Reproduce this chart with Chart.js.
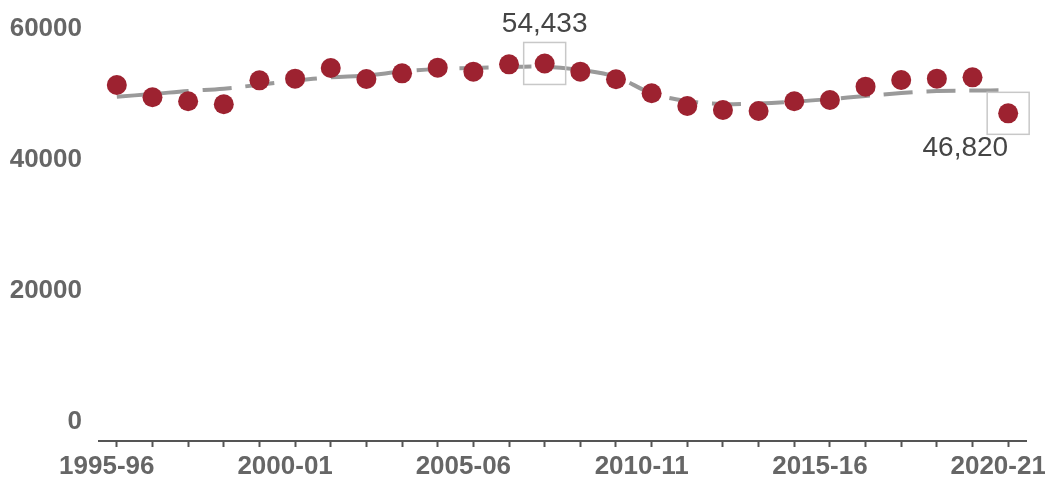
<!DOCTYPE html>
<html>
<head>
<meta charset="utf-8">
<script src="https://cdn.jsdelivr.net/npm/chart.js@4/dist/chart.umd.min.js"></script>
<style>
  html, body { margin: 0; padding: 0; background: #fff; overflow: hidden; }
  canvas { display: block; }
</style>
</head>
<body>
<canvas id="c" width="1045" height="480"></canvas>
<script>
// Academic years shown along the x axis
const years = [
  '1995-96','1996-97','1997-98','1998-99','1999-00','2000-01','2001-02','2002-03',
  '2003-04','2004-05','2005-06','2006-07','2007-08','2008-09','2009-10','2010-11',
  '2011-12','2012-13','2013-14','2014-15','2015-16','2016-17','2017-18','2018-19',
  '2019-20','2020-21'
];

// Yearly totals
const totals = [
  51150, 49270, 48660, 48200, 51860, 52110, 53740, 52060,
  52930, 53790, 53180, 54300, 54433, 53180, 52020, 49880,
  47940, 47330, 47180, 48660, 48850, 50890, 51910, 52110,
  52320, 46820
];

// Smoothed trend
const trend = [
  49360, 49770, 50230, 50580, 51190, 51800, 52320, 52600,
  53200, 53590, 53740, 53890, 53940, 53440, 52370, 49900,
  48700, 48240, 48320, 48590, 49000, 49470, 49920, 50230,
  50300, 50340
];

// Y axis tick values
const yTicks = [0, 20000, 40000, 60000];

// Highlighted points: index, label placement
const callouts = [
  { index: 12, place: 'above' },
  { index: 25, place: 'below' }
];

const fmt = v => v.toLocaleString('en-US');

const calloutPlugin = {
  id: 'callouts',
  afterDatasetsDraw(chart) {
    const ctx = chart.ctx;
    const xs = chart.scales.x, ys = chart.scales.y;
    ctx.save();
    callouts.forEach(c => {
      const v = totals[c.index];
      const px = xs.getPixelForValue(c.index);
      const py = ys.getPixelForValue(v);
      const half = 21;
      ctx.strokeStyle = '#c8c8c8';
      ctx.lineWidth = 1.5;
      ctx.strokeRect(px - half, py - half, half * 2, half * 2);
      ctx.fillStyle = '#454545';
      ctx.font = '28px "Liberation Sans", Arial, sans-serif';
      ctx.textBaseline = 'middle';
      if (c.place === 'above') {
        ctx.textAlign = 'center';
        ctx.fillText(fmt(v), px, py - half - 18);
      } else {
        ctx.textAlign = 'right';
        ctx.fillText(fmt(v), px, py + half + 14);
      }
    });
    ctx.restore();
  }
};

new Chart(document.getElementById('c'), {
  type: 'line',
  data: {
    labels: years,
    datasets: [
      {
        label: 'Total',
        data: totals,
        showLine: false,
        pointRadius: 10,
        pointHoverRadius: 10,
        pointBackgroundColor: '#9d2230',
        pointBorderColor: '#9d2230',
        pointBorderWidth: 0,
        order: 1
      },
      {
        label: 'Trend',
        data: trend,
        borderColor: '#9a9a9a',
        borderWidth: 4,
        borderDash: [29, 14],
        tension: 0.4,
        pointRadius: 0,
        fill: false,
        order: 2
      }
    ]
  },
  options: {
    responsive: false,
    animation: false,
    devicePixelRatio: 1,
    layout: { padding: { top: 27, right: 19, bottom: 0, left: 0 } },
    plugins: {
      legend: { display: false },
      tooltip: { enabled: false }
    },
    scales: {
      x: {
        offset: true,
        grid: {
          display: true,
          drawOnChartArea: false,
          drawTicks: true,
          tickLength: 6,
          tickWidth: 2,
          tickColor: '#555'
        },
        border: { display: true, color: '#555', width: 2 },
        ticks: {
          autoSkip: false,
          maxRotation: 0,
          padding: 4,
          labelOffset: -10,
          color: '#666',
          font: { family: '"Liberation Sans", Arial, sans-serif', size: 26, weight: 'bold' },
          callback: (val, i) => (i % 5 === 0 ? years[i] : '')
        },
        afterFit: s => { s.height = 39; s.paddingLeft = 0; s.paddingRight = 0; }
      },
      y: {
        min: -3206,
        max: 60000,
        grid: { display: false, drawTicks: false },
        border: { display: false },
        ticks: {
          padding: 17,
          labelOffset: 2,
          color: '#666',
          font: { family: '"Liberation Sans", Arial, sans-serif', size: 26, weight: 'bold' },
          callback: v => String(v)
        },
        afterBuildTicks: s => { s.ticks = yTicks.map(v => ({ value: v })); },
        afterFit: s => { s.width = 99; s.paddingTop = 0; s.paddingBottom = 0; }
      }
    }
  },
  plugins: [calloutPlugin]
});
</script>
</body>
</html>
